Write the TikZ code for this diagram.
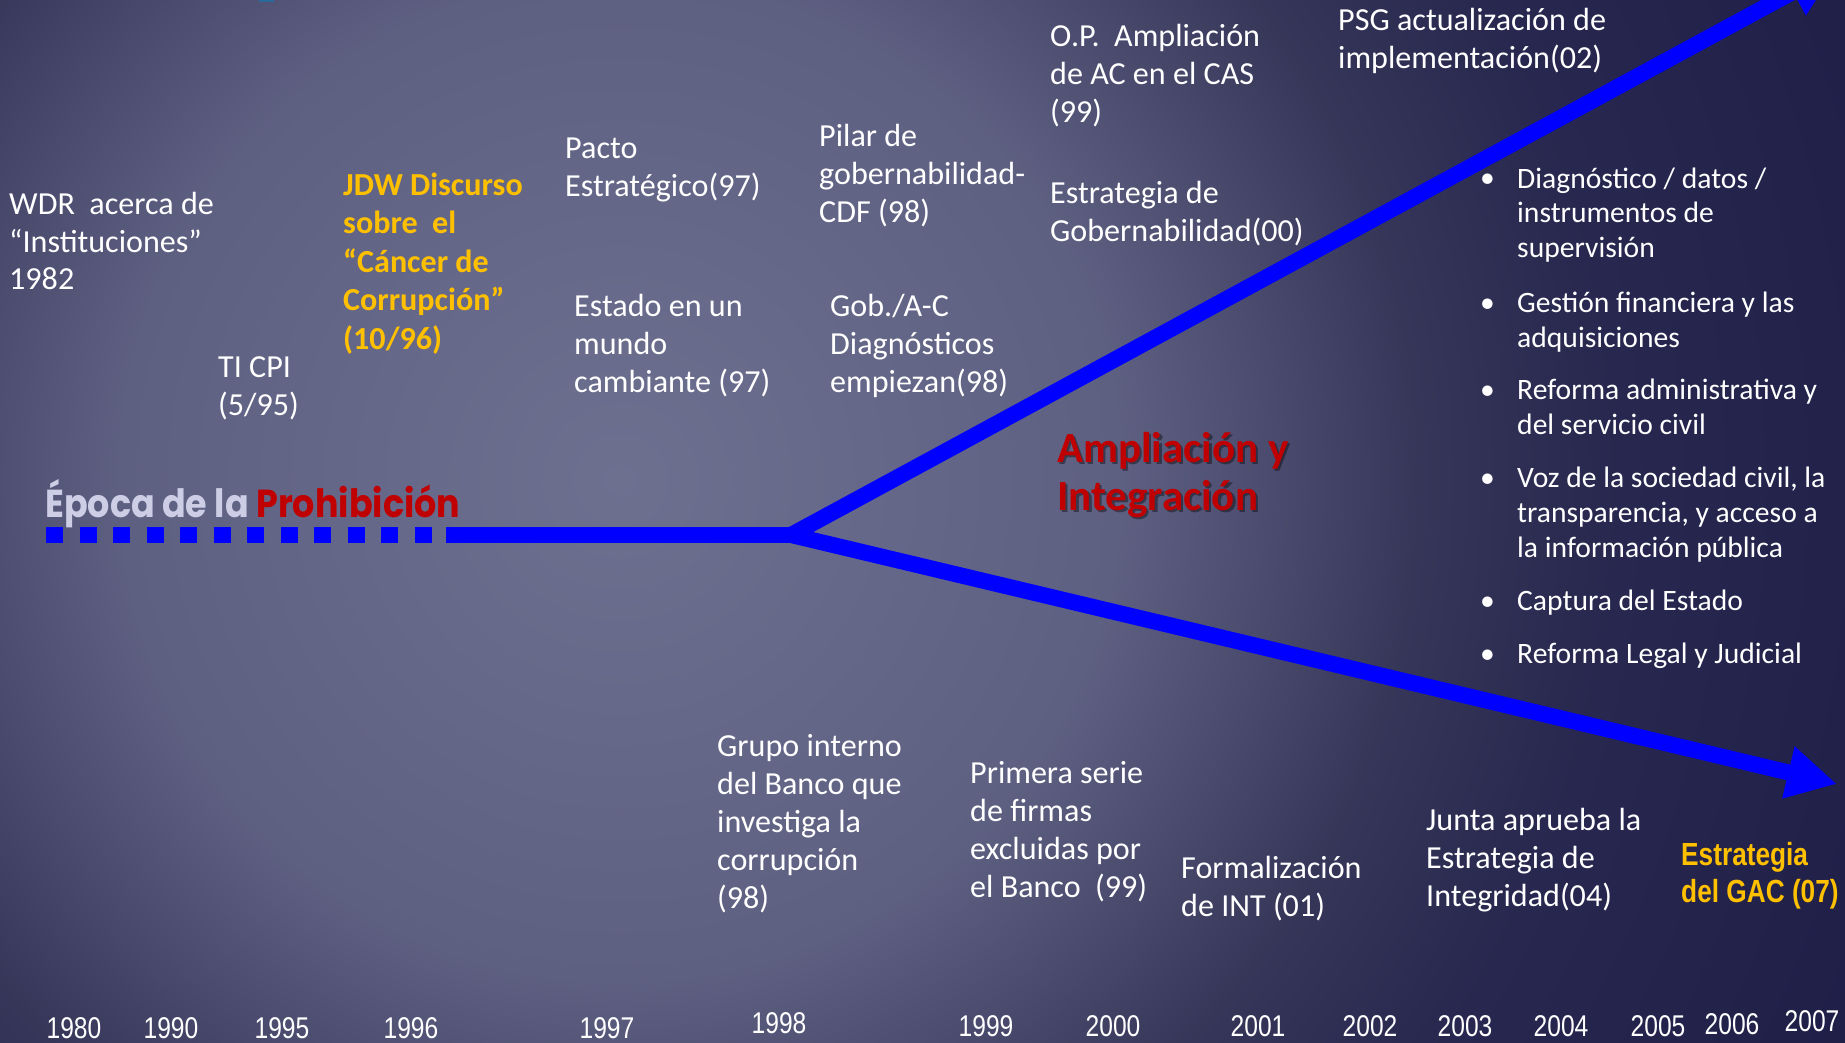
\documentclass[tikz,border=0pt]{standalone}
\usepackage{fontspec}
\setmainfont{Carlito}
\newfontfamily\yrfont{Liberation Sans}
\newfontfamily\epfont{Poppins}
\usetikzlibrary{arrows.meta}
\definecolor{bgA}{HTML}{6E7090}
\definecolor{bgB}{HTML}{5E6082}
\definecolor{bgC}{HTML}{363659}
\definecolor{bgD}{HTML}{27274F}
\definecolor{bgE}{HTML}{1B1B45}
\definecolor{lineblue}{HTML}{0000FF}
\definecolor{gold}{HTML}{FFC000}
\definecolor{darkred}{HTML}{C00000}
\definecolor{lav}{HTML}{CDCDE6}
\definecolor{teal}{HTML}{2A6A9A}
\pgfdeclareradialshading{bgshade}{\pgfpoint{0bp}{0bp}}{color(0bp)=(bgA); color(8.33bp)=(bgB); color(13.33bp)=(bgC); color(16.67bp)=(bgD); color(25bp)=(bgE); color(50bp)=(bgE)}
\begin{document}
% note: for multi-line nodes the base anchor is the baseline of the LAST line
\begin{tikzpicture}[x=1pt,y=-1pt,
  txt/.style={anchor=base west, inner sep=0pt, align=left, text=white, font=\fontsize{32.1}{38}\selectfont},
  jdw/.style={anchor=base west, inner sep=0pt, align=left, text=gold, font=\fontsize{32.1}{38.5}\selectfont\bfseries},
  bul/.style={anchor=base west, inner sep=0pt, align=left, text=white, font=\fontsize{29.6}{35}\selectfont},
  dot/.style={anchor=base west, inner sep=0pt, text=white, font=\fontsize{29.6}{35}\selectfont},
  year/.style={anchor=base, inner sep=0pt, text depth=0pt, text=white, font=\fontsize{30}{30}\selectfont\yrfont},
  blueline/.style={draw=lineblue, line width=16pt},
  tipstyle/.style={-{Triangle[length=50pt,width=50pt]}}
]
\useasboundingbox (0,0) rectangle (1845,1043);
\begin{scope}
  \clip (0,0) rectangle (1845,1043);
  \fill[bgE] (0,0) rectangle (1845,1043);
  \shade[shading=bgshade] (620,480) circle[radius=1500];
  \fill[teal] (259,0) rectangle (274,2);
  % connectors
  \coordinate (dashA) at (46,535);
  \coordinate (dashB) at (432,535);
  \coordinate (solidA) at (446,535);
  \coordinate (fork) at (791,535);
  \coordinate (upTip) at (1837,-32);
  \coordinate (downTip) at (1837,784);
  \draw[blueline, dash pattern=on 17pt off 16.5pt] (dashA) -- (dashB);
  \draw[blueline] (solidA) -- (fork);
  \draw[blueline, tipstyle] (fork) -- (upTip);
  \draw[blueline, tipstyle] (fork) -- (downTip);
\end{scope}

% title
\node[anchor=base west, inner sep=0pt] (epoca) at (45,517)
  {\resizebox{415pt}{\height}{\epfont\bfseries\fontsize{39}{39}\selectfont\color{lav}Época de la \color{darkred}Prohibición}};

% upper texts (positions = baseline of last line)
\node[txt] (wdr) at (9,290) {WDR\ \ acerca de\\“Instituciones”\\1982};
\node[txt] (ticpi) at (218,415) {TI CPI\\(5/95)};
\node[jdw] (jdwt) at (343,349) {JDW Discurso\\sobre\ \ el\\“Cáncer de\\Corrupción”\\(10/96)};
\node[txt] (pacto) at (565,197) {Pacto\\Estratégico(97)};
\node[txt] (estado) at (574,392) {Estado en un\\mundo\\cambiante (97)};
\node[txt] (pilar) at (819,223) {Pilar de\\gobernabilidad-\\CDF (98)};
\node[txt] (gob) at (830,392) {Gob./A-C\\Diagnósticos\\empiezan(98)};
\node[txt] (op) at (1050,123) {O.P.\ \ Ampliación\\de AC en el CAS\\(99)};
\node[txt] (estgob) at (1050,242) {Estrategia de\\Gobernabilidad(00)};
\node[txt] (psg) at (1338,69) {PSG actualización de\\implementación(02)};

% bullets
\node[dot] (d1) at (1480,188) {•};
\node[bul] (b1) at (1517,258) {Diagnóstico / datos /\\instrumentos de\\supervisión};
\node[dot] (d2) at (1480,312) {•};
\node[bul] (b2) at (1517,347) {Gestión financiera y las\\adquisiciones};
\node[dot] (d3) at (1480,399) {•};
\node[bul] (b3) at (1517,434) {Reforma administrativa y\\del servicio civil};
\node[dot] (d4) at (1480,487) {•};
\node[bul] (b4) at (1517,557) {Voz de la sociedad civil, la\\transparencia, y acceso a\\la información pública};
\node[dot] (d5) at (1480,610) {•};
\node[bul] (b5) at (1517,610) {Captura del Estado};
\node[dot] (d6) at (1480,663) {•};
\node[bul] (b6) at (1517,663) {Reforma Legal y Judicial};

% Ampliacion
\node[anchor=base west, inner sep=0pt, align=left, text=black, opacity=0.4, font=\fontsize{43}{48}\selectfont\bfseries] (amplsh) at (1059.5,512.5) {Ampliación y\\Integración};
\node[anchor=base west, inner sep=0pt, align=left, text=darkred, font=\fontsize{43}{48}\selectfont\bfseries] (ampl) at (1057,510) {Ampliación y\\Integración};

% lower texts
\node[txt] (grupo) at (717,908) {Grupo interno\\del Banco que\\investiga la\\corrupción\\(98)};
\node[txt] (primera) at (970,897) {Primera serie\\de firmas\\excluidas por\\el Banco\ \ (99)};
\node[txt] (formal) at (1181,916) {Formalización\\de INT (01)};
\node[txt] (junta) at (1426,906) {Junta aprueba la\\Estrategia de\\Integridad(04)};
\node[anchor=base west, inner sep=0pt, align=left, text=gold, font=\fontsize{32}{37}\selectfont\yrfont\bfseries] (gac) at (1681,902)
  {\scalebox{0.82}[1]{Estrategia}\\\scalebox{0.82}[1]{del GAC (07)}};

% years
\node[year] (y1980) at (74,1038) {\scalebox{0.82}[1]{1980}};
\node[year] (y1990) at (171,1038) {\scalebox{0.82}[1]{1990}};
\node[year] (y1995) at (282,1038) {\scalebox{0.82}[1]{1995}};
\node[year] (y1996) at (411,1038) {\scalebox{0.82}[1]{1996}};
\node[year] (y1997) at (607,1038) {\scalebox{0.82}[1]{1997}};
\node[year] (y1998) at (779,1033) {\scalebox{0.82}[1]{1998}};
\node[year] (y1999) at (986,1036) {\scalebox{0.82}[1]{1999}};
\node[year] (y2000) at (1113,1036) {\scalebox{0.82}[1]{2000}};
\node[year] (y2001) at (1258,1036) {\scalebox{0.82}[1]{2001}};
\node[year] (y2002) at (1370,1036) {\scalebox{0.82}[1]{2002}};
\node[year] (y2003) at (1465,1036) {\scalebox{0.82}[1]{2003}};
\node[year] (y2004) at (1561,1036) {\scalebox{0.82}[1]{2004}};
\node[year] (y2005) at (1658,1036) {\scalebox{0.82}[1]{2005}};
\node[year] (y2006) at (1732,1034) {\scalebox{0.82}[1]{2006}};
\node[year] (y2007) at (1812,1031) {\scalebox{0.82}[1]{2007}};
\end{tikzpicture}
\end{document}
